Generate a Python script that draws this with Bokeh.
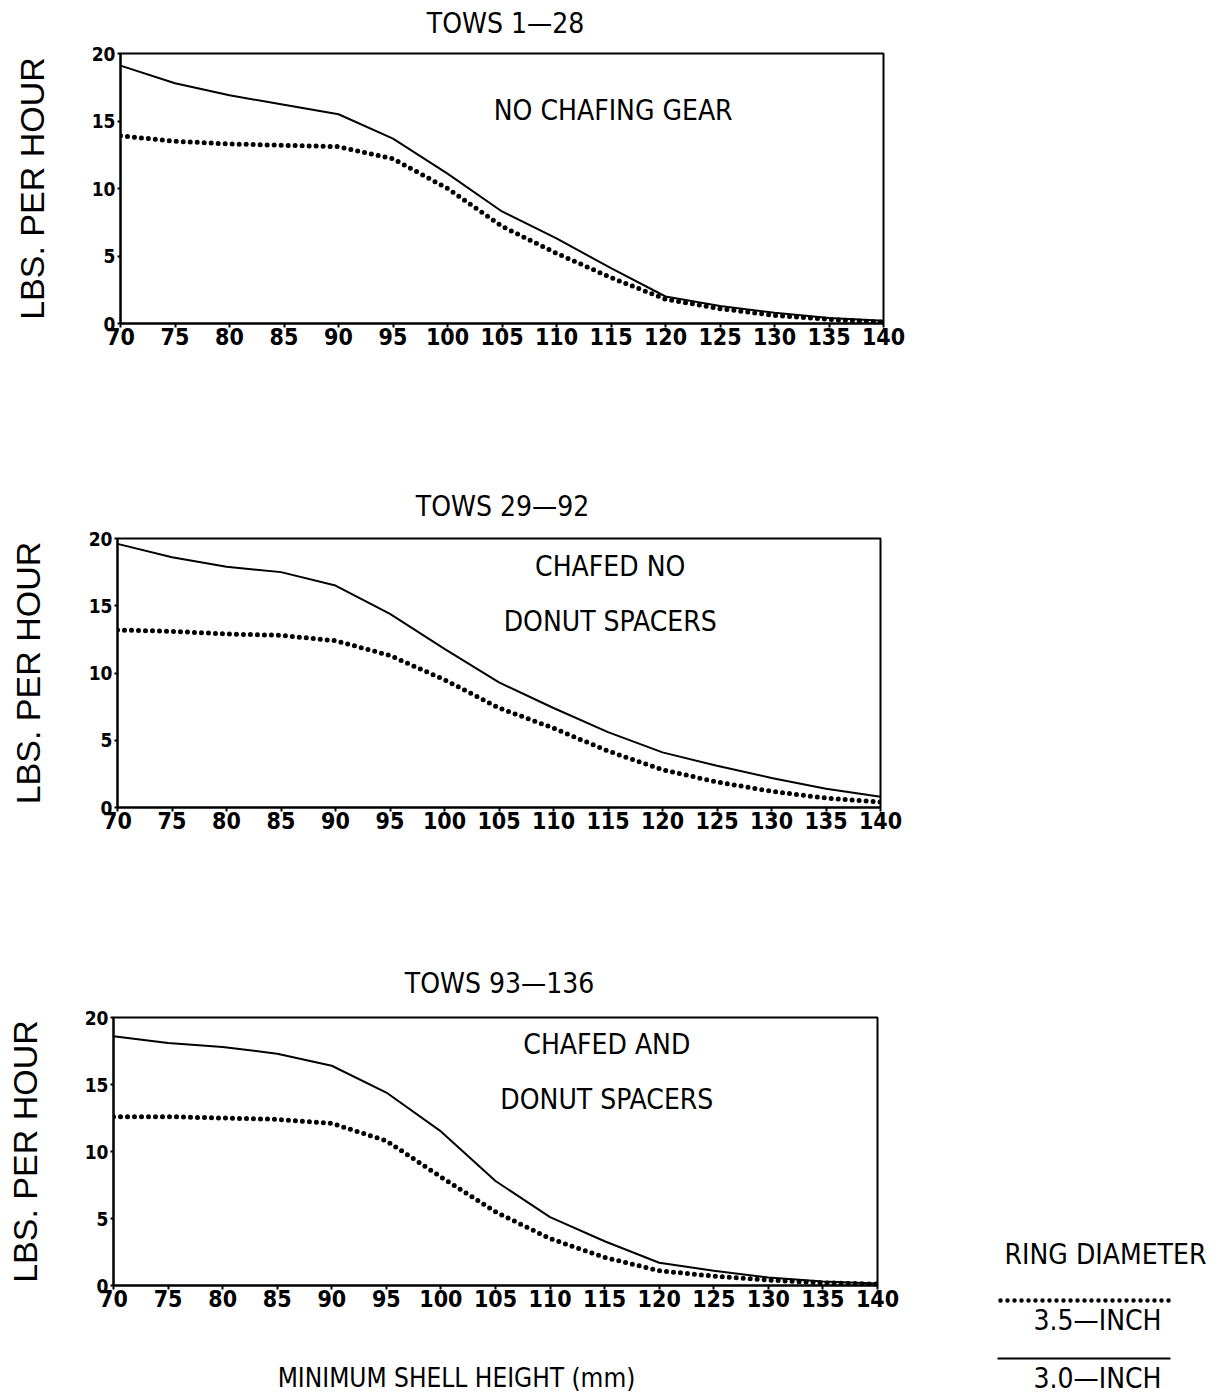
from bokeh.plotting import figure
from bokeh.layouts import column, row
from bokeh.models import Range1d, Label
from bokeh.embed import file_html
from bokeh.resources import INLINE

# ---------------- data ----------------
sizes = [70, 75, 80, 85, 90, 95, 100, 105, 110, 115, 120, 125, 130, 135, 140]

tows1_30 = [19.1, 17.8, 16.9, 16.2, 15.5, 13.7, 11.1, 8.3, 6.3, 4.1, 2.0, 1.3, 0.8, 0.4, 0.2]
tows1_35 = [13.9, 13.5, 13.3, 13.2, 13.1, 12.2, 10.0, 7.2, 5.2, 3.4, 1.8, 1.1, 0.6, 0.3, 0.1]

tows2_30 = [19.6, 18.6, 17.9, 17.5, 16.5, 14.4, 11.8, 9.3, 7.4, 5.6, 4.1, 3.1, 2.2, 1.4, 0.8]
tows2_35 = [13.2, 13.1, 12.9, 12.8, 12.4, 11.3, 9.5, 7.4, 5.9, 4.2, 2.8, 1.9, 1.2, 0.7, 0.4]

tows3_30 = [18.6, 18.1, 17.8, 17.3, 16.4, 14.4, 11.5, 7.8, 5.1, 3.3, 1.7, 1.1, 0.6, 0.3, 0.15]
tows3_35 = [12.6, 12.6, 12.5, 12.4, 12.1, 10.8, 8.1, 5.5, 3.5, 2.1, 1.1, 0.7, 0.4, 0.2, 0.1]

y_ticks = [0, 5, 10, 15, 20]
titles = ["TOWS 1\u201428", "TOWS 29\u201492", "TOWS 93\u2014136"]
notes = [["NO CHAFING GEAR"], ["CHAFED NO", "DONUT SPACERS"], ["CHAFED AND", "DONUT SPACERS"]]
y_label = "LBS. PER HOUR"
x_label = "MINIMUM SHELL HEIGHT (mm)"
legend_title = "RING DIAMETER"
legend_labels = ["3.5\u2014INCH", "3.0\u2014INCH"]

# ---------------- styling ----------------
COND = "DejaVu Sans Condensed"
SANS = "Liberation Sans"


def text_fig(width, height):
    """A blank canvas whose coordinates are its own pixels (y downward)."""
    f = figure(width=width, height=height, x_range=Range1d(0, width), y_range=Range1d(height, 0),
               output_backend="svg", toolbar_location=None, x_axis_location=None,
               y_axis_location=None, min_border=0, background_fill_color="white",
               border_fill_color="white")
    f.grid.visible = False
    f.outline_line_color = None
    return f


def add_text(f, x, y, t, size="28px", font=COND):
    f.add_layout(Label(x=x, y=y, text=t, text_align="center", text_baseline="middle",
                       text_font=font, text_font_size=size, text_color="black"))


def panel(width, height, mbl, mbt, mbr, mbb, solid, dotted, note_lines, note_ys, ylab_standoff):
    p = figure(width=width, height=height, x_range=Range1d(70, 140), y_range=Range1d(0, 20),
               output_backend="svg", toolbar_location=None,
               min_border_left=mbl, min_border_top=mbt, min_border_right=mbr, min_border_bottom=mbb,
               background_fill_color="white", border_fill_color="white")
    p.grid.visible = False
    p.outline_line_color = "black"
    p.outline_line_width = 2
    for ax in (p.xaxis[0], p.yaxis[0]):
        ax.axis_line_width = 2
        ax.axis_line_color = "black"
        ax.major_tick_line_width = 2
        ax.major_tick_line_color = "black"
        ax.minor_tick_line_color = None
        ax.major_tick_in = 0
        ax.major_label_text_font = COND
        ax.major_label_text_font_style = "bold"
        ax.major_label_text_color = "black"
    p.xaxis.ticker = sizes
    p.yaxis.ticker = y_ticks
    p.xaxis.major_tick_out = 4
    p.xaxis.major_label_standoff = 0
    p.xaxis.major_label_text_font_size = "23px"
    p.yaxis.major_tick_out = 3
    p.yaxis.major_label_standoff = 2
    p.yaxis.major_label_text_font_size = "19px"
    p.yaxis.axis_label = y_label
    p.yaxis.axis_label_text_font = SANS
    p.yaxis.axis_label_text_font_size = "34px"
    p.yaxis.axis_label_text_font_style = "normal"
    p.yaxis.axis_label_text_color = "black"
    p.yaxis.axis_label_standoff = ylab_standoff

    p.line(sizes, solid, line_color="black", line_width=2)
    p.line(sizes, dotted, line_color="black", line_width=5, line_dash="0 7", line_cap="round")

    for t, yy in zip(note_lines, note_ys):
        p.add_layout(Label(x=115.2, y=yy, text=t, text_align="center", text_baseline="middle",
                           text_font=COND, text_font_size="28px", text_color="black"))
    return p


# titles above each panel
t1 = text_fig(960, 44)
add_text(t1, 505, 23, titles[0])
t2 = text_fig(960, 44)
add_text(t2, 502, 26, titles[1])
t3 = text_fig(960, 42)
add_text(t3, 499, 23, titles[2])

p1 = panel(960, 436, 120, 9, 77, 157, tows1_30, tows1_35, notes[0], [15.8], 38)
p2 = panel(960, 436, 117, 14, 80, 153, tows2_30, tows2_35, notes[1], [17.9, 13.8], 39)
p3 = panel(960, 318, 113, 15, 83, 35, tows3_30, tows3_35, notes[2], [18.0, 13.9], 38)

# x-axis caption under the last panel
xl = text_fig(960, 76)
add_text(xl, 456, 57, x_label, size="26px")

# ---------------- legend panel (coordinates = page pixels) ----------------
leg = figure(width=250, height=1396, x_range=Range1d(960, 1210), y_range=Range1d(1396, 0),
             output_backend="svg", toolbar_location=None, x_axis_location=None,
             y_axis_location=None, min_border=0, background_fill_color="white",
             border_fill_color="white")
leg.grid.visible = False
leg.outline_line_color = None
add_text(leg, 1105, 1254, legend_title)
leg.line([1000, 1170], [1300, 1300], line_color="black", line_width=4.5, line_dash="0 7",
         line_cap="round")
add_text(leg, 1097, 1320, legend_labels[0])
leg.line([997, 1170], [1358, 1358], line_color="black", line_width=2)
add_text(leg, 1097, 1378, legend_labels[1])

layout = row(column(row(t1), row(p1), row(t2), row(p2), row(t3), row(p3), row(xl)), leg)
open("out.html", "w").write(file_html(layout, INLINE))
